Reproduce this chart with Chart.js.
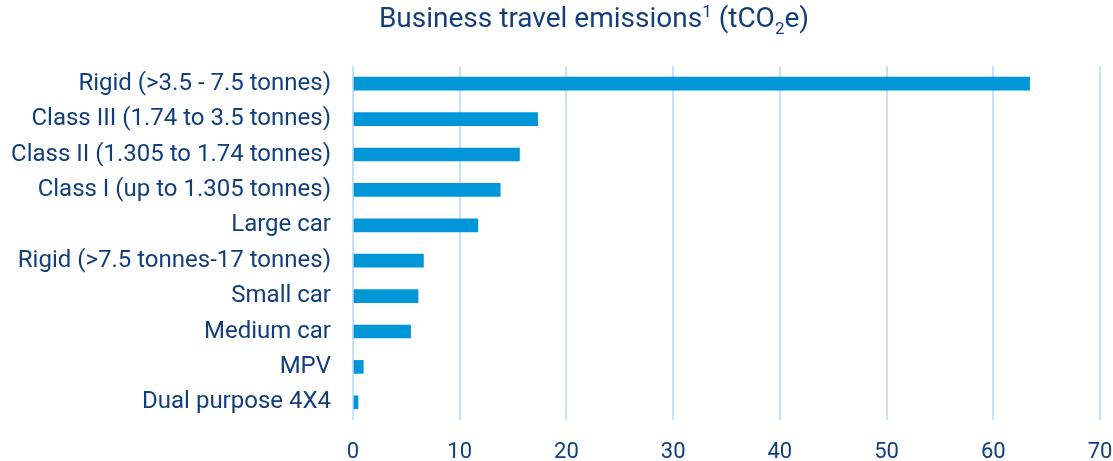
<!DOCTYPE html>
<html>
  <head>
    <meta charset="utf-8" />
    <title>Business travel emissions</title>
    <script src="https://cdn.jsdelivr.net/npm/chart.js@4"></script>
    <style>
      html, body { margin: 0; padding: 0; background: #fff; }
      #wrap { position: relative; width: 1113px; height: 461px; }
      #title {
        position: absolute; top: 1px; left: 344px; width: 500px;
        text-align: center; font-family: Roboto, sans-serif; font-size: 28px;
        color: #123f7c; white-space: nowrap;
      }
      #title sup, #title sub { font-size: 17px; line-height: 0; }
    </style>
  </head>
  <body>
    <div id="wrap">
      <div id="title">Business travel emissions<sup>1</sup> (tCO<sub>2</sub>e)</div>
      <canvas id="chart" width="1113" height="461"></canvas>
    </div>
    <script>
      const categories = [
        "Rigid (>3.5 - 7.5 tonnes)",
        "Class III (1.74 to 3.5 tonnes)",
        "Class II (1.305 to 1.74 tonnes)",
        "Class I (up to 1.305 tonnes)",
        "Large car",
        "Rigid (>7.5 tonnes-17 tonnes)",
        "Small car",
        "Medium car",
        "MPV",
        "Dual purpose 4X4"
      ];
      const emissions = [63.4, 17.3, 15.6, 13.8, 11.7, 6.6, 6.1, 5.4, 0.96, 0.47];
      const xTicks = [0, 10, 20, 30, 40, 50, 60, 70];

      const textColor = "#123f7c";

      new Chart(document.getElementById("chart"), {
        type: "bar",
        data: {
          labels: categories,
          datasets: [{
            data: emissions,
            backgroundColor: "#0096d8",
            barThickness: 13
          }]
        },
        options: {
          indexAxis: "y",
          responsive: false,
          animation: false,
          layout: { padding: { top: 66, right: 0, left: 0, bottom: 0 } },
          plugins: { legend: { display: false }, tooltip: { enabled: false } },
          scales: {
            x: {
              min: 0,
              max: 70,
              afterBuildTicks: scale => { scale.ticks = xTicks.map(v => ({ value: v })); },
              afterFit: scale => { scale.height = 41; scale.paddingRight = 13; },
              grid: { color: "#c6e2f7", lineWidth: 2, drawTicks: false },
              border: { display: false },
              ticks: {
                padding: 19,
                color: textColor,
                font: { family: "Roboto", size: 22 }
              }
            },
            y: {
              afterFit: scale => { scale.width = 353; },
              grid: { display: false, drawTicks: false },
              border: { display: false },
              ticks: {
                padding: 22,
                color: textColor,
                font: { family: "Roboto", size: 24 }
              }
            }
          }
        }
      });
    </script>
  </body>
</html>
